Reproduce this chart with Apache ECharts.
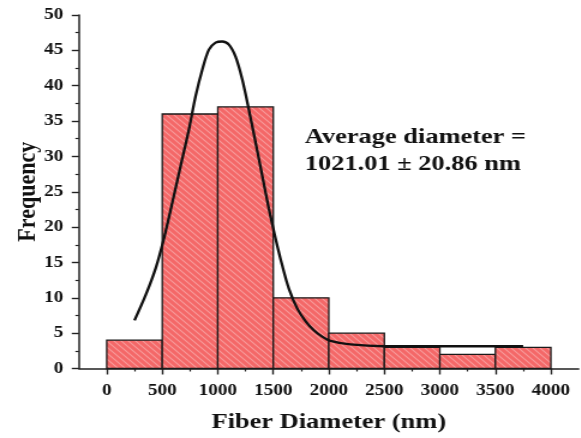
<!DOCTYPE html>
<html>
<head>
<meta charset="utf-8">
<script src="https://cdn.jsdelivr.net/npm/echarts@6/dist/echarts.min.js"></script>
<style>
  html, body { margin: 0; padding: 0; background: #fff; overflow: hidden; }
  #wrap { width: 581px; height: 438px; overflow: hidden; }
  /* the figure is drawn 1.2x wider than tall, like the published plot */
  #chart { width: 484px; height: 438px; transform: scaleX(1.2); transform-origin: 0 0; }
</style>
</head>
<body>
<div id="wrap"><div id="chart"></div></div>
<script>
// Histogram bins (nm) and counts
const binStart = [0, 500, 1000, 1500, 2000, 2500, 3000, 3500];
const binEnd   = [500, 1000, 1500, 2000, 2500, 3000, 3500, 4000];
const counts   = [4, 36, 37, 10, 5, 3, 2, 3];

// Fitted distribution curve (diameter nm, frequency)
const fitX = [250, 351, 441, 515, 591, 666, 740, 800, 861, 920, 980, 1040, 1100, 1160, 1220, 1280, 1340, 1400, 1460, 1520, 1580, 1640, 1715, 1790, 1865, 1940, 2014, 2194, 2491, 3004, 3480, 3750];
const fitY = [6.8, 10.4, 14.2, 18.4, 23.5, 28.7, 33.8, 38.5, 42.3, 45.1, 46.1, 46.25, 45.8, 44.1, 40.9, 36.6, 32.0, 27.3, 22.6, 18.4, 14.6, 11.3, 8.5, 6.7, 5.4, 4.5, 3.9, 3.4, 3.15, 3.15, 3.15, 3.15];

// Axis tick values
const xLabelValues = [0, 500, 1000, 1500, 2000, 2500, 3000, 3500, 4000];
const xMinorValues = [250, 750, 1250, 1750, 2250, 2750, 3250, 3750];

const annotation = ['Average diameter =', '1021.01 \u00b1 20.86 nm'];

const FONT = '"Liberation Serif", "Times New Roman", serif';

// red fill with light diagonal hatching
function hatchPattern() {
  const s = 6;
  const c = document.createElement('canvas');
  c.width = s; c.height = s;
  const g = c.getContext('2d');
  g.fillStyle = '#F46868';
  g.fillRect(0, 0, s, s);
  g.strokeStyle = '#F89C9C';
  g.lineWidth = 1.1;
  g.beginPath();
  g.moveTo(0, 0); g.lineTo(s, s);
  g.moveTo(-2, s - 2); g.lineTo(2, s + 2);
  g.moveTo(s - 2, -2); g.lineTo(s + 2, 2);
  g.stroke();
  return c;
}
const pattern = { image: hatchPattern(), repeat: 'repeat' };

const histData = counts.map((v, i) => [binStart[i], binEnd[i], v]);
const fitData = fitX.map((x, i) => [x, fitY[i]]);

const chart = echarts.init(document.getElementById('chart'), null, { renderer: 'canvas' });

chart.setOption({
  animation: false,
  backgroundColor: '#ffffff',
  grid: { left: 65.8, right: 1.8, top: 15, bottom: 67.3 },
  xAxis: [
    {
      type: 'value',
      min: -250, max: 4250, interval: 250,
      name: 'Fiber Diameter (nm)',
      nameLocation: 'middle',
      nameGap: 42.5,
      nameMoveOverlap: false,
      nameTextStyle: { fontFamily: FONT, fontWeight: 'bold', fontSize: 22, color: '#111' },
      axisLine: { onZero: false, lineStyle: { color: '#222', width: 1.5 } },
      axisTick: { show: true, length: 6, customValues: xLabelValues, lineStyle: { color: '#222', width: 1.4 } },
      axisLabel: {
        customValues: xLabelValues, margin: 14,
        formatter: v => String(v),
        fontFamily: FONT, fontWeight: 'bold', fontSize: 16, color: '#111'
      },
      splitLine: { show: false }
    },
    {
      type: 'value',
      position: 'bottom',
      min: -250, max: 4250, interval: 250,
      axisLine: { show: false, onZero: false },
      axisTick: { show: true, length: 3, customValues: xMinorValues, lineStyle: { color: '#222', width: 1.2 } },
      axisLabel: { show: false },
      splitLine: { show: false }
    }
  ],
  yAxis: {
    type: 'value',
    min: 0, max: 50, interval: 5,
    name: 'Frequency',
    nameLocation: 'middle',
    nameGap: 31,
    nameMoveOverlap: false,
    nameTextStyle: { fontFamily: FONT, fontWeight: 'bold', fontSize: 22, color: '#111' },
    axisLine: { show: true, onZero: false, lineStyle: { color: '#222', width: 1.5 } },
    axisTick: { show: true, length: 6, lineStyle: { color: '#222', width: 1.4 } },
    minorTick: { show: true, splitNumber: 2, length: 3, lineStyle: { color: '#222', width: 1.2 } },
    axisLabel: { margin: 13, fontFamily: FONT, fontWeight: 'bold', fontSize: 16, color: '#111' },
    splitLine: { show: false }
  },
  graphic: [
    {
      type: 'text',
      left: 254, top: 124,
      style: {
        text: annotation.join('\n'),
        font: 'bold 22px ' + FONT,
        lineHeight: 27,
        fill: '#111'
      }
    }
  ],
  series: [
    {
      type: 'custom',
      xAxisIndex: 0,
      data: histData,
      encode: { x: [0, 1], y: 2 },
      renderItem: function (params, api) {
        const top = api.coord([api.value(0), api.value(2)]);
        const base = api.coord([api.value(1), 0]);
        return {
          type: 'rect',
          shape: { x: top[0], y: top[1], width: base[0] - top[0], height: base[1] - top[1] },
          style: { fill: pattern, stroke: '#1a1a1a', lineWidth: 1.3 }
        };
      },
      z: 2
    },
    {
      type: 'line',
      xAxisIndex: 0,
      data: fitData,
      showSymbol: false,
      smooth: 0.3,
      lineStyle: { color: '#111', width: 2.3 },
      z: 5
    }
  ]
});
</script>
</body>
</html>
